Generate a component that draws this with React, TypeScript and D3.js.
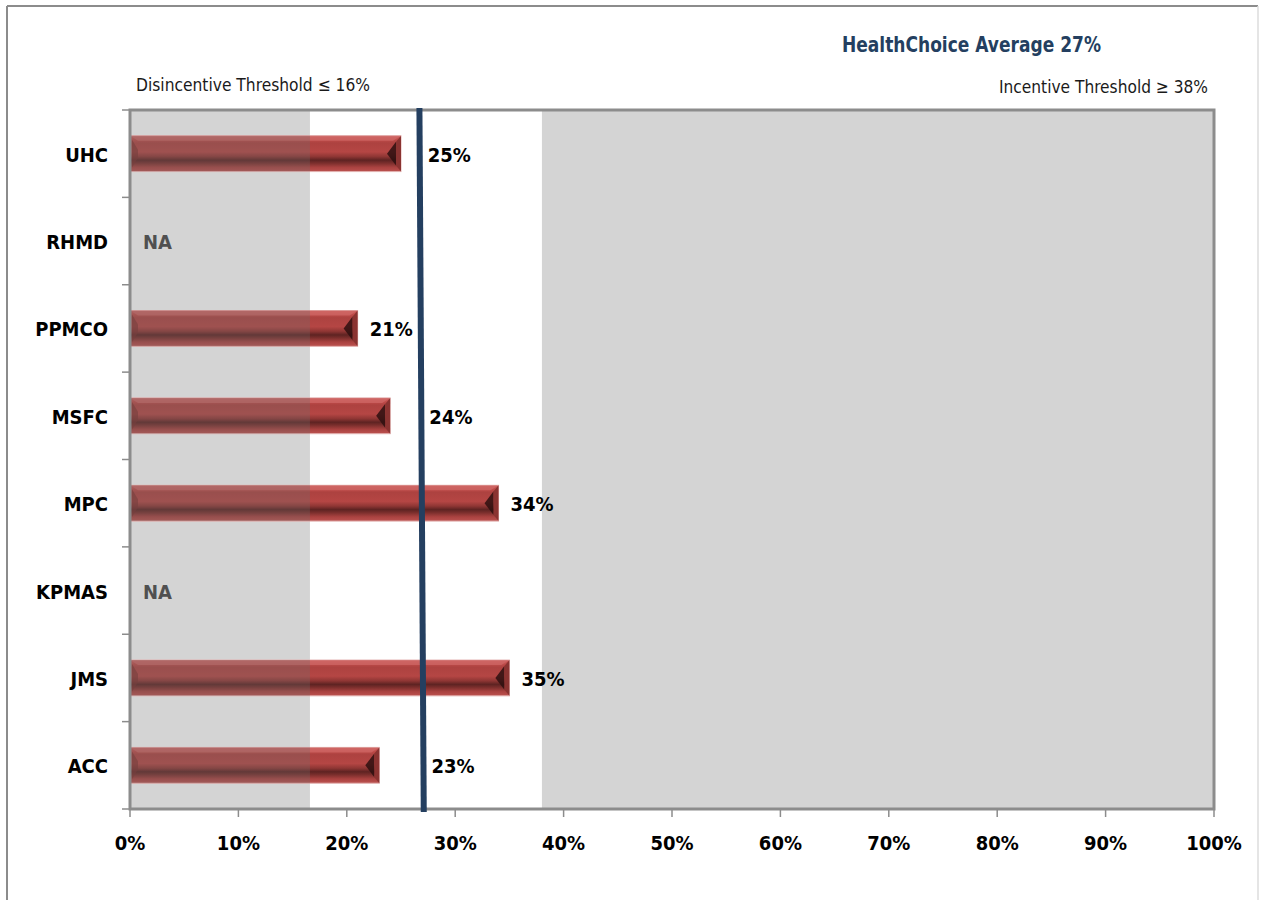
import React, { useEffect, useRef } from 'react';
import * as d3 from 'd3';

const categories = ['UHC', 'RHMD', 'PPMCO', 'MSFC', 'MPC', 'KPMAS', 'JMS', 'ACC'];
const values: (number | null)[] = [0.25, null, 0.21, 0.24, 0.34, null, 0.35, 0.23];
const xTicks = [0, 0.1, 0.2, 0.3, 0.4, 0.5, 0.6, 0.7, 0.8, 0.9, 1.0];
const disincentiveEdge = 0.166;
const incentiveEdge = 0.38;
const averageTop = 0.267;
const averageBottom = 0.271;
const titleText = 'HealthChoice Average 27%';
const disincentiveText = 'Disincentive Threshold \u2264 16%';
const incentiveText = 'Incentive Threshold \u2265 38%';

const FONT = "'Liberation Sans Narrow', 'DejaVu Sans Condensed', 'Arial Narrow', sans-serif";

export default function App() {
  const svgRef = useRef<SVGSVGElement>(null);

  useEffect(() => {
    if (!svgRef.current) return;
    const W = 1266, H = 900;
    const plot = { left: 130, right: 1214, top: 110, bottom: 809 };

    const svg = d3.select(svgRef.current).attr('width', W).attr('height', H).html('');

    const defs = svg.append('defs');
    const grad = defs.append('linearGradient').attr('id', 'barGrad')
      .attr('x1', 0).attr('y1', 0).attr('x2', 0).attr('y2', 1);
    [
      [0, '#cc5e5c'], [0.12, '#bd4a48'], [0.2, '#ad4240'], [0.45, '#b54644'],
      [0.58, '#8f3634'], [0.68, '#5e2322'], [0.76, '#7a2e2c'], [0.88, '#aa4240'], [1, '#bc5250']
    ].forEach(([o, c]) => grad.append('stop').attr('offset', o as number).attr('stop-color', c as string));

    const x = d3.scaleLinear().domain([0, 1]).range([plot.left, plot.right]);
    const y = d3.scaleBand<string>().domain(categories).range([plot.top, plot.bottom])
      .paddingInner(0.59).paddingOuter(0.295);
    const pct = d3.format('.0%');

    // outer frame
    svg.append('line').attr('x1', 7).attr('x2', 7).attr('y1', 6).attr('y2', H).attr('stroke', '#8c8c8c').attr('stroke-width', 2);
    svg.append('line').attr('x1', 7).attr('x2', 1258).attr('y1', 6).attr('y2', 6).attr('stroke', '#8c8c8c').attr('stroke-width', 2);
    svg.append('line').attr('x1', 1258).attr('x2', 1258).attr('y1', 6).attr('y2', H).attr('stroke', '#dcdcdc').attr('stroke-width', 1.5);

    // threshold bands
    svg.append('rect').attr('x', x(0)).attr('y', plot.top).attr('width', x(disincentiveEdge) - x(0))
      .attr('height', plot.bottom - plot.top).attr('fill', '#d4d4d4');
    svg.append('rect').attr('x', x(incentiveEdge)).attr('y', plot.top).attr('width', x(1) - x(incentiveEdge))
      .attr('height', plot.bottom - plot.top).attr('fill', '#d4d4d4');

    // bars
    const data = categories.map((c, i) => ({ c, v: values[i] }));
    const bars = data.filter(d => d.v !== null) as { c: string; v: number }[];
    const bh = y.bandwidth();

    const g = svg.append('g');
    bars.forEach(d => {
      const x0 = x(0), x1 = x(d.v), y0 = y(d.c)!, y1 = y0 + bh, yc = y0 + bh / 2;
      g.append('rect').attr('x', x0).attr('y', y0).attr('width', x1 - x0).attr('height', bh)
        .attr('fill', 'url(#barGrad)').attr('stroke', '#e3b2b1').attr('stroke-width', 1);
      g.append('polygon').attr('points', [[x0, y0], [x1, y0], [x1 - 8, y0 + 5], [x0 + 8, y0 + 5]].join(' '))
        .attr('fill', '#d06a68').attr('opacity', 0.7);
      g.append('polygon').attr('points', [[x1 - 14, yc], [x1 - 5, y0 + 6], [x1 - 5, y1 - 6]].join(' '))
        .attr('fill', '#2e0f0f').attr('opacity', 0.85);
      g.append('polygon').attr('points', [[x1, y0], [x1 - 5, y0 + 6], [x1 - 5, y1 - 6], [x1, y1]].join(' '))
        .attr('fill', '#8a3331');
      g.append('polygon').attr('points', [[x0 + 2, y0 + 4], [x0 + 8, yc - 4], [x0 + 8, yc + 4], [x0 + 2, y1 - 4]].join(' '))
        .attr('fill', '#7a2c2a').attr('opacity', 0.6);
      const xe = Math.min(x1, x(disincentiveEdge));
      g.append('rect').attr('x', x0).attr('y', y0).attr('width', xe - x0).attr('height', bh)
        .attr('fill', '#6e6e6e').attr('opacity', 0.3);
    });

    // plot border
    svg.append('rect').attr('x', plot.left).attr('y', plot.top)
      .attr('width', plot.right - plot.left).attr('height', plot.bottom - plot.top)
      .attr('fill', 'none').attr('stroke', '#8c8c8c').attr('stroke-width', 3);

    // y ticks at category boundaries
    const step = y.step();
    d3.range(categories.length + 1).forEach(i => {
      const yy = plot.top + i * step;
      svg.append('line').attr('x1', plot.left - 8).attr('x2', plot.left).attr('y1', yy).attr('y2', yy)
        .attr('stroke', '#8c8c8c').attr('stroke-width', 1.5);
    });

    // x axis ticks
    const xa = svg.append('g');
    xTicks.forEach(t => {
      xa.append('line').attr('x1', x(t)).attr('x2', x(t)).attr('y1', plot.bottom).attr('y2', plot.bottom + 8)
        .attr('stroke', '#8c8c8c').attr('stroke-width', 1.5);
      xa.append('text').attr('x', x(t)).attr('y', 850).attr('text-anchor', 'middle')
        .attr('font-family', FONT).attr('font-weight', 'bold').attr('font-size', 20).attr('fill', '#000')
        .text(pct(t));
    });

    // category labels
    categories.forEach(c => {
      svg.append('text').attr('x', 108).attr('y', y(c)! + bh / 2 + 8).attr('text-anchor', 'end')
        .attr('font-family', FONT).attr('font-weight', 'bold').attr('font-size', 20).attr('fill', '#000')
        .text(c);
    });

    // average line
    const ya0 = plot.top - 2, ya1 = plot.bottom + 3;
    svg.append('line').attr('x1', x(averageTop)).attr('x2', x(averageBottom))
      .attr('y1', ya0).attr('y2', ya1)
      .attr('stroke', '#243f60').attr('stroke-width', 6);
    const lineAt = (yy: number) => x(averageTop) + (x(averageBottom) - x(averageTop)) * (yy - ya0) / (ya1 - ya0);

    // value labels
    data.forEach(d => {
      const yc = y(d.c)! + bh / 2 + 8;
      if (d.v === null) {
        svg.append('text').attr('x', x(0) + 13).attr('y', yc).attr('font-family', FONT)
          .attr('font-weight', 'bold').attr('font-size', 20).attr('fill', '#505050').text('NA');
      } else {
        const t = svg.append('text').attr('y', yc).attr('font-family', FONT)
          .attr('font-weight', 'bold').attr('font-size', 20).attr('fill', '#000')
          .text(pct(d.v));
        const w = (t.node() as SVGTextElement).getComputedTextLength();
        const lx0 = x(d.v) + 12;
        const lineX = lineAt(yc);
        const lx = (lx0 + w < lineX - 4 || lx0 > lineX + 4) ? lx0 : lineX + 8;
        t.attr('x', lx);
      }
    });

    // titles
    svg.append('text').attr('x', 842).attr('y', 52).attr('font-family', FONT).attr('font-weight', 'bold')
      .attr('font-size', 21).attr('fill', '#243f60')
      .attr('textLength', 259).attr('lengthAdjust', 'spacingAndGlyphs').text(titleText);
    svg.append('text').attr('x', 136).attr('y', 91).attr('font-family', FONT)
      .attr('font-size', 18).attr('fill', '#1a1a1a')
      .attr('textLength', 234).attr('lengthAdjust', 'spacingAndGlyphs').text(disincentiveText);
    svg.append('text').attr('x', 999).attr('y', 93).attr('font-family', FONT)
      .attr('font-size', 18).attr('fill', '#1a1a1a')
      .attr('textLength', 209).attr('lengthAdjust', 'spacingAndGlyphs').text(incentiveText);
  }, []);

  return (
    <div style={{ position: 'absolute', left: 0, top: 0, background: '#fff' }}>
      <svg ref={svgRef}></svg>
    </div>
  );
}
